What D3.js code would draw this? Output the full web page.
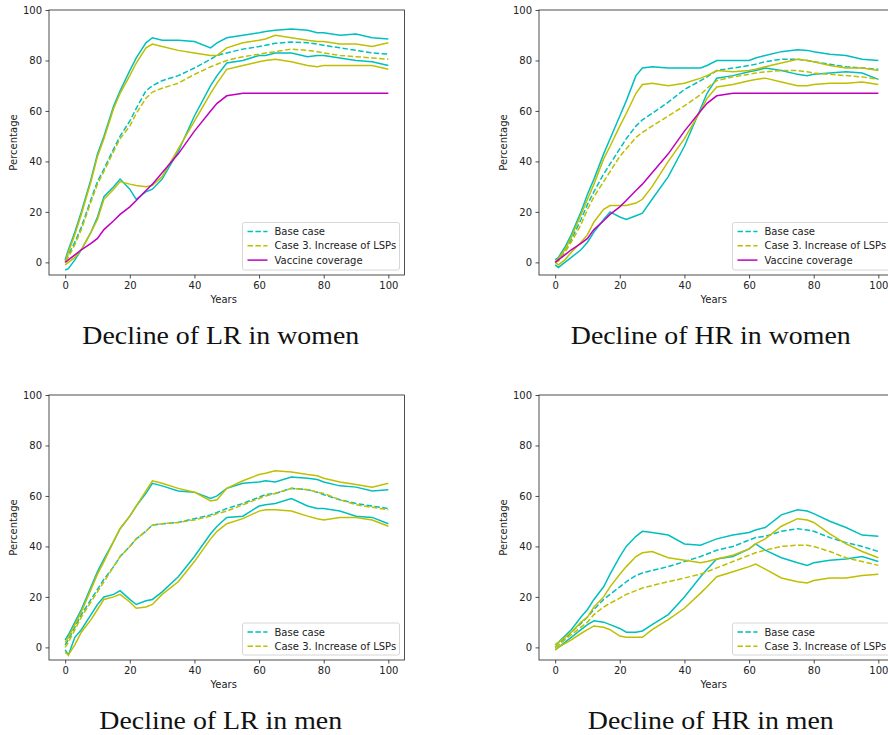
<!DOCTYPE html>
<html>
<head>
<meta charset="utf-8">
<script src="https://cdn.jsdelivr.net/npm/d3@7"></script>
<style>
  body { margin: 0; background: #fff; }
  svg { display: block; }
</style>
</head>
<body>
<svg id="chart" width="888" height="735"></svg>
<script>
const years = [0, 1, 3, 5, 8, 10, 12, 15, 17, 20, 22, 25, 27, 30, 35, 40, 45, 47, 50, 55, 60, 62, 65, 70, 75, 78, 80, 85, 90, 95, 100];
const xTicks = [0, 20, 40, 60, 80, 100];
const yTicks = [0, 20, 40, 60, 80, 100];

// Decline of LR in women
const lrWomenBaseHi   = [1, 5, 12, 20, 33, 43, 50, 62, 68, 76, 81, 87, 89, 88, 88, 87.5, 85, 87, 89, 90, 91, 91.5, 92, 92.5, 92, 91, 91, 90, 90.5, 89, 88.5];
const lrWomenBaseMean = [1, 3, 8, 14, 25, 32, 37, 45, 50, 56, 61, 68, 70, 72, 74, 77, 80.5, 82, 83, 84.5, 85.5, 86, 86.8, 87.3, 87, 86.5, 86, 85, 84, 83, 82.5];
const lrWomenBaseLo   = [-3, -2.5, 1, 5, 12, 18, 26, 30, 33, 29, 25, 28, 29, 33, 44, 58, 70, 74, 79, 80, 82, 82, 83, 83, 81.5, 82, 82, 81, 80, 79.5, 78];
const lrWomenLspHi    = [0, 4, 11, 19, 32, 42, 49, 61, 67, 74, 79, 85, 86.5, 85.5, 84, 83, 82, 82, 85, 87, 88, 88.5, 90, 89, 88, 87.5, 87.5, 86.5, 86.5, 85.5, 87];
const lrWomenLspMean  = [0.5, 2, 7, 13, 24, 31, 36, 44, 49, 54, 59, 65, 67.5, 69, 71, 74.5, 77.5, 78.5, 80, 81.5, 82.5, 83, 83.5, 84.5, 84, 83.5, 83, 82, 81.5, 81, 80.5];
const lrWomenLspLo    = [-1, 0, 2, 5, 12, 17, 25, 29, 32, 31, 30.5, 30, 30.5, 34, 45, 56, 67, 71, 76.5, 78, 79.5, 80, 80.5, 79.5, 78, 77.5, 78, 78, 78, 78, 76.5];

// Decline of HR in women
const hrWomenBaseHi   = [1, 2, 6, 11, 20, 27, 33, 43, 49, 58, 64, 74, 77, 77.5, 77, 77, 77, 78, 80, 80, 80, 81, 82, 83.5, 84.2, 84, 83.5, 82.5, 82, 80.5, 80];
const hrWomenBaseMean = [0, 1, 5, 9, 17, 23, 28, 35, 39, 45, 49, 54, 56.5, 59, 63.5, 68.5, 72, 73.5, 76, 77, 78, 78.5, 79.5, 80.5, 80.5, 80, 79.5, 78.5, 77.5, 77, 76.5];
const hrWomenBaseLo   = [-1, -2, 0, 2, 5, 8, 12, 17, 20, 18, 17, 18.5, 19.5, 25, 34, 46, 61, 67, 73, 74, 75.5, 76, 77, 76, 74.5, 74, 74.5, 75, 75.5, 75, 72.5];
const hrWomenLspHi    = [0, 1.5, 5, 10, 19, 25, 31, 41, 46, 54, 59, 67, 70.5, 71, 70, 71, 73, 74, 76, 75.5, 76, 76.5, 77.5, 79, 80.5, 80, 79.5, 78, 77, 77, 76];
const hrWomenLspMean  = [0, 0.5, 4, 8, 15, 21, 26, 32, 36, 42, 45, 49.5, 51.5, 54, 58, 62, 66.5, 69, 72, 73.5, 74.5, 75, 75.5, 76, 76, 75.5, 75, 74.5, 74, 73.5, 72.5];
const hrWomenLspLo    = [0, -1, 1, 4, 8, 11, 16, 21, 22.5, 22.5, 22.5, 23.5, 25, 30, 40, 49, 60, 65, 69.5, 70.5, 72, 72.5, 73, 71.5, 70, 70, 70.5, 71, 71, 71.5, 70.5];

// Decline of LR in men
const lrMenBaseHi   = [3, 5, 10, 15, 24, 30, 35, 42, 47, 52, 56, 61, 65, 64, 62, 61.5, 59, 60, 63, 65, 65.5, 66, 65.5, 67.5, 67, 66.5, 65.5, 64, 63.5, 62, 62.5];
const lrMenBaseMean = [1, 3, 8, 13, 19, 23, 27, 32, 36, 40, 43, 46, 48.5, 49, 49.5, 51, 52.5, 53.5, 55, 57, 59.5, 60.5, 61, 63, 62.5, 61.5, 60.5, 58.5, 57, 56, 55];
const lrMenBaseLo   = [-1, -3, 4, 7, 13, 17, 20, 21, 22.5, 19, 17, 18.5, 19, 22, 28, 36, 45, 48, 51.5, 52, 56, 56.5, 57, 59, 56, 55, 55, 54, 52, 51.5, 49];
const lrMenLspHi    = [2, 4, 9, 14, 23, 29, 34, 42, 47, 52, 56, 62, 66, 65, 63, 61.5, 58, 58.5, 63, 66, 68.5, 69, 70, 69.5, 68.5, 68, 67, 65.5, 64.5, 63.5, 65];
const lrMenLspMean  = [0, 2, 7, 12, 18, 22, 26, 32, 36, 40, 43, 46, 48.5, 49, 49.5, 50.5, 52, 53, 54, 56.5, 59, 60, 61, 63, 62.5, 61.5, 61, 58.5, 56.5, 55.5, 54.5];
const lrMenLspLo    = [-2, -3, 1, 6, 11, 15, 19, 20, 21, 18, 15.5, 16, 17, 21, 26, 34, 43, 46, 49, 51, 54, 54.5, 54.5, 54, 52, 51, 50.5, 51.5, 51.5, 50.5, 48];

// Decline of HR in men
const hrMenBaseHi   = [1, 2, 4.5, 7, 12, 15, 19, 24, 29, 36, 40, 44, 46, 45.5, 44.5, 41, 40.5, 41.5, 43, 44.5, 45.5, 46.5, 47.5, 52.5, 54.5, 54, 53, 50, 47.5, 44.5, 44];
const hrMenBaseMean = [0, 1, 3.5, 6, 9.5, 12, 15, 19, 21, 24, 26, 28.5, 29.5, 30.5, 32, 34, 36, 37, 38.5, 40, 42.5, 43.5, 44, 46, 47, 46.5, 46, 43.5, 41.5, 40, 38];
const hrMenBaseLo   = [-1, 0, 2, 4, 7, 9, 10.5, 10, 9, 7.5, 6, 6, 6.5, 9, 13, 20, 28, 31, 35, 36, 39, 41, 38.5, 35.5, 33.5, 32.5, 33.5, 34.5, 35, 36, 34];
const hrMenLspHi    = [1, 2, 4, 6, 10, 12, 16, 20, 24, 29, 32, 36, 37.5, 38, 35.5, 34.5, 33.5, 34, 35, 36.5, 39, 41, 43, 48, 51, 50.5, 49.5, 45, 41, 38, 35.5];
const hrMenLspMean  = [0, 1, 3, 5, 8, 10, 13, 16, 17.5, 19.5, 21, 22.5, 23.5, 24.5, 26, 27.5, 29, 30, 31.5, 34, 36.5, 37.5, 38.5, 40, 40.5, 40.5, 40, 38, 35.5, 34, 32.5];
const hrMenLspLo    = [-1, 0, 1.5, 3, 5.5, 7, 8.5, 8, 7, 4.5, 4, 4, 4, 7, 11, 15.5, 21.5, 24, 28, 30, 32, 33, 31, 27.5, 26, 25.5, 26.5, 27.5, 27.5, 28.5, 29];

// vaccine coverage (women panels)
const vaccine = [0, 1, 3, 5, 7.5, 9.5, 13, 16.5, 19, 22, 24.5, 28.5, 31, 35.5, 43, 52, 60, 63, 66, 67, 67, 67, 67, 67, 67, 67, 67, 67, 67, 67, 67];

const titles = ["Decline of LR in women", "Decline of HR in women", "Decline of LR in men", "Decline of HR in men"];
const legendBase = "Base case";
const legendLsp = "Case 3. Increase of LSPs";
const legendVac = "Vaccine coverage";

const cyan = "#00bfbf", olive = "#bfbf00", magenta = "#bf00bf";

const panels = [
  { left: 49,  top: 10,  title: titles[0], base: [lrWomenBaseHi, lrWomenBaseMean, lrWomenBaseLo], lsp: [lrWomenLspHi, lrWomenLspMean, lrWomenLspLo], vac: true },
  { left: 539, top: 10,  title: titles[1], base: [hrWomenBaseHi, hrWomenBaseMean, hrWomenBaseLo], lsp: [hrWomenLspHi, hrWomenLspMean, hrWomenLspLo], vac: true },
  { left: 49,  top: 395, title: titles[2], base: [lrMenBaseHi, lrMenBaseMean, lrMenBaseLo], lsp: [lrMenLspHi, lrMenLspMean, lrMenLspLo], vac: false },
  { left: 539, top: 395, title: titles[3], base: [hrMenBaseHi, hrMenBaseMean, hrMenBaseLo], lsp: [hrMenLspHi, hrMenLspMean, hrMenLspLo], vac: false }
];

const W = 355.5, H = 265;
const svg = d3.select("#chart");
const tickFont = "DejaVu Sans, sans-serif";
const titleNodes = [];

panels.forEach((p, i) => {
  const g = svg.append("g").attr("transform", `translate(${p.left},${p.top})`);

  const x = d3.scaleLinear().domain([-5, 105]).range([0, W]);
  const y = d3.scaleLinear().domain([-5, 100]).range([H, 0]);

  g.append("clipPath").attr("id", "clip" + i)
    .append("rect").attr("width", W).attr("height", H);

  const line = d3.line()
      .x((d, k) => x(years[k]))
      .y(d => y(d));

  const plot = g.append("g").attr("clip-path", `url(#clip${i})`);

  const drawSet = (set, color) => {
    [0, 2].forEach(k => plot.append("path")
      .datum(set[k])
      .attr("d", line)
      .attr("fill", "none")
      .attr("stroke", color)
      .attr("stroke-width", 1.5));
    plot.append("path")
      .datum(set[1])
      .attr("d", line)
      .attr("fill", "none")
      .attr("stroke", color)
      .attr("stroke-width", 1.5)
      .attr("stroke-dasharray", "5.5,2.4");
  };
  drawSet(p.base, cyan);
  drawSet(p.lsp, olive);

  if (p.vac) {
    plot.append("path")
      .datum(vaccine)
      .attr("d", line)
      .attr("fill", "none")
      .attr("stroke", magenta)
      .attr("stroke-width", 1.5);
  }

  // axes
  const xAxis = g.append("g")
      .attr("transform", `translate(0,${H})`)
      .call(d3.axisBottom(x).tickValues(xTicks).tickSize(3.5).tickPadding(3.5).tickSizeOuter(0));
  const yAxis = g.append("g")
      .call(d3.axisLeft(y).tickValues(yTicks).tickSize(3.5).tickPadding(3.5).tickSizeOuter(0));
  [xAxis, yAxis].forEach(a => {
    a.selectAll("text").attr("font-family", tickFont).attr("font-size", 10).attr("fill", "#222");
    a.selectAll("line").attr("stroke", "#222").attr("stroke-width", 0.8);
    a.select(".domain").remove();
  });

  g.append("rect")
    .attr("width", W).attr("height", H)
    .attr("fill", "none")
    .attr("stroke", "#222")
    .attr("stroke-width", 0.8);

  g.append("text")
    .attr("x", W / 2 - 3).attr("y", H + 28)
    .attr("text-anchor", "middle")
    .attr("font-family", tickFont).attr("font-size", 10).attr("fill", "#222")
    .text("Years");

  g.append("text")
    .attr("transform", `translate(-32,${H / 2}) rotate(-90)`)
    .attr("text-anchor", "middle")
    .attr("font-family", tickFont).attr("font-size", 10).attr("fill", "#222")
    .text("Percentage");

  // legend
  const entries = [[legendBase, cyan, true], [legendLsp, olive, true]];
  if (p.vac) entries.push([legendVac, magenta, false]);
  const lw = 157, lh = entries.length === 3 ? 47.5 : 32;
  const lg = g.append("g").attr("transform", `translate(${W - 5 - lw},${H - 5 - lh})`);
  lg.append("rect")
    .attr("width", lw).attr("height", lh)
    .attr("rx", 2)
    .attr("fill", "#fff").attr("fill-opacity", 0.8)
    .attr("stroke", "#ccc").attr("stroke-width", 0.8);
  entries.forEach((e, k) => {
    const yy = 9 + k * 14.3;
    lg.append("line")
      .attr("x1", 5).attr("x2", 25).attr("y1", yy).attr("y2", yy)
      .attr("stroke", e[1]).attr("stroke-width", 1.5)
      .attr("stroke-dasharray", e[2] ? "5.5,2.4" : null);
    lg.append("text")
      .attr("x", 32).attr("y", yy).attr("dy", "0.35em")
      .attr("font-family", tickFont).attr("font-size", 10).attr("fill", "#222")
      .text(e[0]);
  });

  // panel title
  const t = svg.append("text")
    .attr("text-anchor", "middle")
    .attr("font-family", "Liberation Serif, serif").attr("font-size", 25)
    .attr("fill", "#111")
    .attr("data-cx", p.left + W / 2 - 6)
    .attr("data-cy", p.top + 334)
    .text(p.title);
  titleNodes.push(t);
});

// widen titles a little, the original face is broader than Times
const k = 277 / titleNodes[0].node().getComputedTextLength();
titleNodes.forEach(t => {
  t.attr("transform", `translate(${t.attr("data-cx")},${t.attr("data-cy")}) scale(${k},1)`);
});
</script>
</body>
</html>
